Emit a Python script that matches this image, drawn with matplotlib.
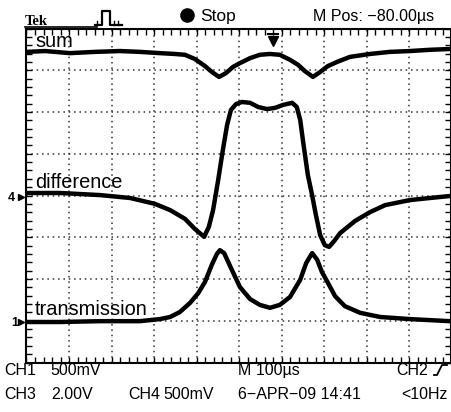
import matplotlib
matplotlib.use('Agg')
import matplotlib.pyplot as plt
from matplotlib.lines import Line2D
import numpy as np

# Time in screen divisions (M 100 us/div), amplitude in screen divisions
sum_t = [0.01, 0.44, 1.02, 1.61, 2.20, 2.67, 3.14, 3.49, 3.73, 3.96, 4.20, 4.36, 4.53,
         4.69, 4.86, 5.02, 5.26, 5.49, 5.73, 5.96, 6.20, 6.39, 6.55, 6.74, 6.91, 7.09,
         7.31, 7.61, 8.08, 8.55, 9.02, 9.49, 9.99]
sum_v = [7.44, 7.46, 7.41, 7.44, 7.46, 7.44, 7.41, 7.39, 7.37, 7.27, 7.10, 6.96, 6.84,
         6.93, 7.08, 7.17, 7.29, 7.37, 7.39, 7.37, 7.25, 7.13, 6.98, 6.84, 6.96, 7.10,
         7.20, 7.32, 7.39, 7.44, 7.46, 7.49, 7.51]

diff_t = [0.01, 0.79, 1.73, 2.44, 3.02, 3.38, 3.73, 3.96, 4.18, 4.29, 4.39, 4.51, 4.62,
          4.72, 4.81, 4.93, 5.07, 5.26, 5.45, 5.66, 5.85, 6.04, 6.25, 6.36, 6.44, 6.51,
          6.62, 6.72, 6.81, 6.91, 7.02, 7.12, 7.24, 7.38, 7.73, 8.08, 8.44, 9.02, 9.49, 9.99]
diff_v = [4.06, 4.06, 4.01, 3.94, 3.80, 3.65, 3.44, 3.20, 3.01, 3.25, 3.65, 4.37, 5.09,
          5.69, 6.05, 6.19, 6.24, 6.22, 6.12, 6.07, 6.10, 6.17, 6.22, 6.12, 5.81, 5.28,
          4.49, 4.01, 3.53, 3.05, 2.81, 2.77, 2.91, 3.10, 3.39, 3.60, 3.77, 3.89, 3.94, 3.99]

trans_t = [0.01, 0.79, 1.73, 2.67, 3.14, 3.38, 3.61, 3.85, 4.04, 4.20, 4.36, 4.48, 4.55,
           4.65, 4.79, 5.02, 5.26, 5.49, 5.73, 5.96, 6.20, 6.44, 6.58, 6.72, 6.84, 6.95,
           7.07, 7.26, 7.49, 7.85, 8.32, 9.02, 9.96]
trans_v = [0.97, 0.97, 0.99, 0.99, 1.04, 1.09, 1.21, 1.43, 1.66, 1.93, 2.34, 2.60, 2.69,
           2.62, 2.31, 1.81, 1.52, 1.38, 1.31, 1.38, 1.57, 1.98, 2.38, 2.62, 2.46, 2.17,
           1.95, 1.59, 1.35, 1.19, 1.09, 1.04, 0.99]

trace_labels = ['sum', 'difference', 'transmission']
status_row1 = ['CH1', '500mV', 'M 100\u00b5s', 'CH2']
status_row2 = ['CH3', '2.00V', 'CH4', '500mV', '6\u2212APR\u221209 14:41', '<10Hz']
header = ['Tek', 'Stop', 'M Pos: \u221280.00\u00b5s']

W, H = 452, 412
fig = plt.figure(figsize=(W / 100, H / 100), dpi=100)
fig.patch.set_facecolor('white')


def px(x, y):
    return x / W, 1 - y / H


L, R, T, B = 26.5, 451.5, 28.5, 362.5
ax = fig.add_axes([L / W, 1 - B / H, (R - L) / W, (B - T) / H])
ax.set_xlim(0, 10)
ax.set_ylim(0, 8)
ax.set_xticks(range(0, 11))
ax.set_yticks(range(0, 9))
ax.set_xticks(np.arange(0, 10.01, 0.2), minor=True)
ax.set_yticks(np.arange(0, 8.01, 0.2), minor=True)
ax.tick_params(which='both', direction='in', length=4, width=1, top=True, right=True,
               labelbottom=False, labelleft=False, color='black')
ax.grid(True, which='major', linestyle=(0, (1, 2.5)), linewidth=1.1, color='#333333')
for s in ax.spines.values():
    s.set_linewidth(1.5)
    s.set_color('black')

for t, v in [(sum_t, sum_v), (diff_t, diff_v), (trans_t, trans_v)]:
    ax.plot(t, v, color='black', linewidth=3.2, solid_joinstyle='round', solid_capstyle='round')

lab_font = dict(family=['Liberation Sans', 'DejaVu Sans'], fontsize=14.4, color='black')
for lab, yb in zip(trace_labels, [7.56, 4.18, 1.14]):
    ax.text(0.2, yb, lab, va='baseline', ha='left', **lab_font)

# trigger position arrow
ax.plot([0.568, 0.592], [0.985, 0.985], transform=ax.transAxes, color='black', lw=1.5,
        clip_on=False)
ax.plot([0.58], [0.963], transform=ax.transAxes, marker='v', ms=6.5, color='black',
        clip_on=False)

sfont = dict(family=['Liberation Sans Narrow', 'Liberation Sans', 'DejaVu Sans'],
             fontsize=11.5, color='black')
# bottom status rows
for txt, x, ha in zip(status_row1, [4, 50, 238, 428], ['left', 'left', 'left', 'right']):
    fig.text(*px(x, 375), txt, va='baseline', ha=ha, **sfont)
for txt, x, ha in zip(status_row2, [4, 51, 128, 163, 238, 448],
                      ['left', 'left', 'left', 'left', 'left', 'right']):
    fig.text(*px(x, 399), txt, va='baseline', ha=ha, **sfont)
# trigger slope symbol
xs, ys = zip(*[px(434, 375), px(437, 375), px(442, 365), px(447, 365)])
fig.add_artist(Line2D(xs, ys, color='black', lw=1.3))

# header
fig.text(*px(25, 25), header[0], va='baseline', ha='left', fontsize=10.5, fontweight='bold',
         family=['Liberation Serif', 'DejaVu Serif'])
xs, ys = zip(*[px(25, 27), px(97, 27)])
fig.add_artist(Line2D(xs, ys, color='black', lw=1.2))
xs, ys = zip(*[px(95, 25), px(102, 25), px(102, 11), px(110, 11), px(110, 25), px(122, 25)])
fig.add_artist(Line2D(xs, ys, color='black', lw=1.6))
for xx in [97, 114, 118]:
    xs, ys = zip(*[px(xx, 25), px(xx, 21)])
    fig.add_artist(Line2D(xs, ys, color='black', lw=1.0))
fig.add_artist(Line2D(*zip(px(187, 15)), marker='o', ms=9.5, color='black', lw=0))
fig.text(*px(200, 21), header[1], va='baseline', ha='left',
         family=['Liberation Sans Narrow', 'Liberation Sans', 'DejaVu Sans'], fontsize=12.5)
fig.text(*px(434, 21), header[2], va='baseline', ha='right', **sfont)

# channel ground markers
cfont = dict(family=['Liberation Sans', 'DejaVu Sans'], fontsize=9, fontweight='bold')
fig.text(*px(8, 201), '4', va='baseline', ha='left', **cfont)
fig.add_artist(Line2D(*zip(px(21, 197)), marker='>', ms=5, color='black', lw=0))
fig.text(*px(11, 326), '1', va='baseline', ha='left', **cfont)
fig.add_artist(Line2D(*zip(px(21, 322)), marker='>', ms=5, color='black', lw=0))

fig.savefig('out.png', dpi=100, facecolor='white')
